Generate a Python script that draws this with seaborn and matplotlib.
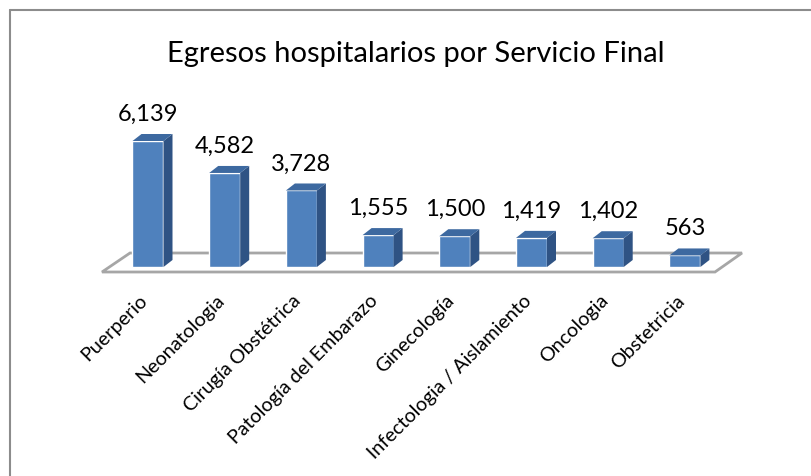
import matplotlib
matplotlib.use("Agg")
import matplotlib.pyplot as plt
import seaborn as sns
from matplotlib.patches import Polygon
from matplotlib.lines import Line2D

categories = ["Puerperio", "Neonatologia", "Cirugía Obstétrica", "Patología del Embarazo",
              "Ginecología", "Infectologia / Aislamiento", "Oncologia", "Obstetricia"]
values = [6139, 4582, 3728, 1555, 1500, 1419, 1402, 563]
value_labels = ["6,139", "4,582", "3,728", "1,555", "1,500", "1,419", "1,402", "563"]
title = "Egresos hospitalarios por Servicio Final"

W, H = 811, 476
DPI = 100
FRONT = "#4F81BD"
TOP = "#3D69A0"
SIDE = "#2F5384"

sns.set_theme(style="white")
plt.rcParams["font.family"] = ["Lato", "DejaVu Sans"]

fig = plt.figure(figsize=(W / DPI, H / DPI), dpi=DPI)
ax = fig.add_axes([0, 0, 1, 1])

# pixel geometry of the plotting area
X0, STEP = 148.0, 76.7          # px centre of first bar, spacing
Y0, SCALE = 267.0, 126.0 / 6139  # px of value 0, px per unit

def xd(px):
    return (px - X0) / STEP

def yd(py):
    return (Y0 - py) / SCALE

# floor
floor = Polygon([(xd(102), yd(272)), (xd(715), yd(272)), (xd(742), yd(253)), (xd(130), yd(253))],
                closed=True, facecolor="white", edgecolor="#A6A6A6", lw=2, zorder=0.5)
ax.add_patch(floor)

sns.barplot(x=categories, y=values, color=FRONT, saturation=1, width=31 / STEP, ax=ax, zorder=2)

ax.set_xlim(xd(0), xd(W))
ax.set_ylim(yd(H), yd(0))
ax.axis("off")

dx = 9 / STEP
dy = 7 / SCALE
for p in ax.patches:
    if p is floor:
        continue
    x, w, h = p.get_x(), p.get_width(), p.get_height()
    side = Polygon([(x + w, 0), (x + w + dx, dy), (x + w + dx, h + dy), (x + w, h)],
                   closed=True, facecolor=SIDE, edgecolor="none", zorder=2)
    top = Polygon([(x, h), (x + w, h), (x + w + dx, h + dy), (x + dx, h + dy)],
                  closed=True, facecolor=TOP, edgecolor="none", zorder=2)
    ax.add_patch(side)
    ax.add_patch(top)

for i, (v, lab) in enumerate(zip(values, value_labels)):
    ax.text(i, v + 20 / SCALE, lab, ha="center", va="baseline", fontsize=17, color="black")

for i, c in enumerate(categories):
    ax.text(i - 3 / STEP, yd(298), c, rotation=45, rotation_mode="anchor",
            ha="right", va="center", fontsize=14.2, color="black")

fig.text(416 / W, 1 - 62 / H, title, ha="center", va="baseline", fontsize=21, color="black")

# chart border (top and left visible)
fig.add_artist(Line2D([10 / W, 1], [1 - 10 / H, 1 - 10 / H], color="#8C8C8C", lw=1.5))
fig.add_artist(Line2D([10 / W, 10 / W], [0, 1 - 10 / H], color="#8C8C8C", lw=1.5))

fig.savefig("out.png", dpi=DPI)
